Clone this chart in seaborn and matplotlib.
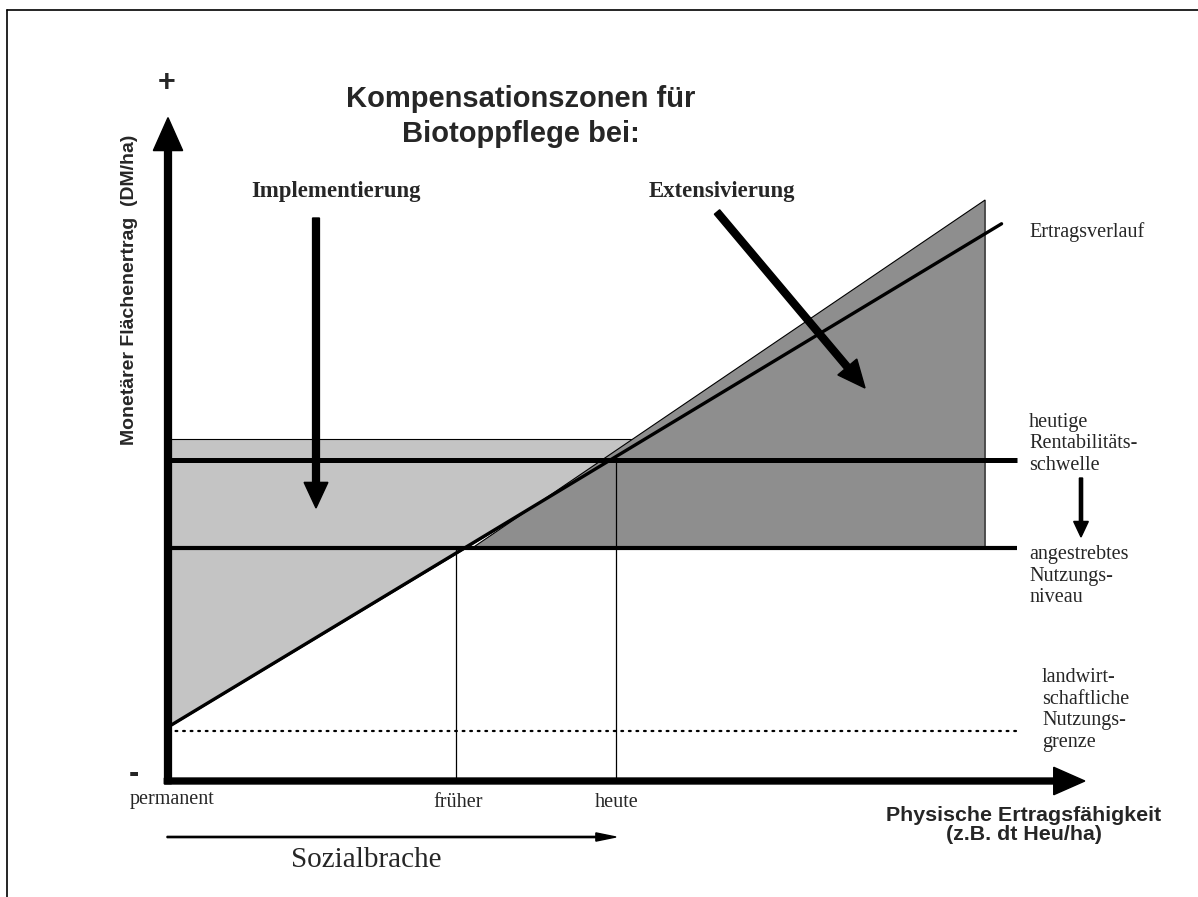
import numpy as np
import matplotlib
matplotlib.use('Agg')
import matplotlib.pyplot as plt
from matplotlib.lines import Line2D
import seaborn as sns

# conceptual values (1 unit = 91.5 px, origin at the axes crossing)
ertrag_x = [0.0, 9.11]
ertrag_y = [0.59, 6.09]
rentab_level = 3.51
angestrebt_level = 2.55
grenze_level = 0.55
level_end = 9.28
frueher_x = 3.15
heute_x = 4.90
light_top = 3.74
light_x = [0.0, 0.0, 5.22]
light_y = [0.59, light_top, light_top]
dark_x = [3.33, 8.93, 8.93]
dark_y = [2.55, 6.35, 2.55]
x_axis_end = 10.02
y_axis_end = 7.25

title_lines = ['Kompensationszonen für', 'Biotoppflege bei:']
right_labels = ['Ertragsverlauf',
                'heutige\nRentabilitäts-\nschwelle',
                'angestrebtes\nNutzungs-\nniveau',
                'landwirt-\nschaftliche\nNutzungs-\ngrenze']
tick_labels = ['permanent', 'früher', 'heute']

S = 91.5
OX, OY = 168, 781
W, H = 1198, 897


def px(x, y):
    return (x - OX) / S, (OY - y) / S


sns.set_style('white')
serif = ['Liberation Serif', 'DejaVu Serif']
sans = ['Liberation Sans', 'DejaVu Sans']
plt.rcParams['font.family'] = sans

fig = plt.figure(figsize=(W / 100, H / 100), dpi=100)
ax = fig.add_axes([0, 0, 1, 1])
ax.set_xlim(-OX / S, (W - OX) / S)
ax.set_ylim(-(H - OY) / S, OY / S)
ax.axis('off')

# zones
ax.fill(light_x, light_y, facecolor='#c4c4c4', edgecolor='black', lw=0.8, zorder=1)
ax.fill(dark_x, dark_y, facecolor='#8e8e8e', edgecolor='black', lw=0.8, zorder=2)

# levels
ax.plot([0, level_end], [rentab_level] * 2, color='black', lw=3.6, solid_capstyle='butt', zorder=3)
ax.plot([0, level_end], [angestrebt_level] * 2, color='black', lw=3.0, solid_capstyle='butt', zorder=3)
ax.plot([0, level_end], [grenze_level] * 2, color='black', lw=1.6,
        ls=(0, (0.8, 2.6)), dash_capstyle='round', zorder=3)
ax.plot([frueher_x] * 2, [0, angestrebt_level], color='black', lw=0.9, zorder=3)
ax.plot([heute_x] * 2, [0, rentab_level], color='black', lw=0.9, zorder=3)

sns.lineplot(x=ertrag_x, y=ertrag_y, ax=ax, color='black', lw=2.4, zorder=4)

# axes with arrow heads
ax.arrow(0, -0.03, 0, y_axis_end + 0.03, width=0.075, head_width=0.32, head_length=0.36,
         length_includes_head=True, color='black', zorder=5)
ax.arrow(-0.04, 0, x_axis_end + 0.04, 0, width=0.065, head_width=0.3, head_length=0.34,
         length_includes_head=True, color='black', zorder=5)

# annotation arrows
def arrow(p0, p1, w, hw, hl):
    x0, y0 = px(*p0)
    x1, y1 = px(*p1)
    ax.arrow(x0, y0, x1 - x0, y1 - y0, width=w, head_width=hw, head_length=hl,
             length_includes_head=True, color='black', zorder=6)

arrow((316, 218), (316, 508), 0.075, 0.26, 0.28)
arrow((717, 212), (865, 388), 0.075, 0.27, 0.3)
arrow((1081, 478), (1081, 537), 0.035, 0.16, 0.17)
arrow((167, 837), (616, 837), 0.014, 0.09, 0.22)

# texts
def txt(x, y, s, **kw):
    ax.text(*px(x, y), s, **kw)

txt(167, 83, '+', fontsize=22, fontweight='bold', ha='center', va='center', family=sans)
txt(134, 774, '-', fontsize=22, fontweight='bold', ha='center', va='center', family=sans)
txt(521, 107, title_lines[0], fontsize=21, fontweight='bold', ha='center', va='baseline', family=sans)
txt(521, 142, title_lines[1], fontsize=21, fontweight='bold', ha='center', va='baseline', family=sans)
txt(336, 192, 'Implementierung', fontsize=16.4, fontweight='bold', ha='center', va='center', family=serif)
txt(722, 192, 'Extensivierung', fontsize=16.4, fontweight='bold', ha='center', va='center', family=serif)

label_pos = [(1029, 232), (1029, 444), (1029, 576), (1042, 710)]
for (x, y), s in zip(label_pos, right_labels):
    txt(x, y, s, fontsize=14.5, ha='left', va='center', family=serif, linespacing=1.2)

txt(130, 799, tick_labels[0], fontsize=14.5, ha='left', va='center', family=serif)
txt(458, 802, tick_labels[1], fontsize=14.5, ha='center', va='center', family=serif)
txt(617, 802, tick_labels[2], fontsize=14.5, ha='center', va='center', family=serif)

txt(1024, 825, 'Physische Ertragsfähigkeit\n(z.B. dt Heu/ha)', fontsize=15.4, fontweight='bold',
    ha='center', va='center', multialignment='center', family=sans, linespacing=1.05)
txt(366, 860, 'Sozialbrache', fontsize=21, ha='center', va='center', family=serif)
txt(129, 290, 'Monetärer Flächenertrag  (DM/ha)', fontsize=14, fontweight='bold', rotation=90,
    ha='center', va='center', family=sans)

# page frame
fig.add_artist(Line2D([7 / W, 7 / W], [0, 1 - 10 / H], color='black', lw=1.2))
fig.add_artist(Line2D([7 / W, 1], [1 - 10 / H, 1 - 10 / H], color='black', lw=1.2))

fig.savefig('out.png', dpi=100)
